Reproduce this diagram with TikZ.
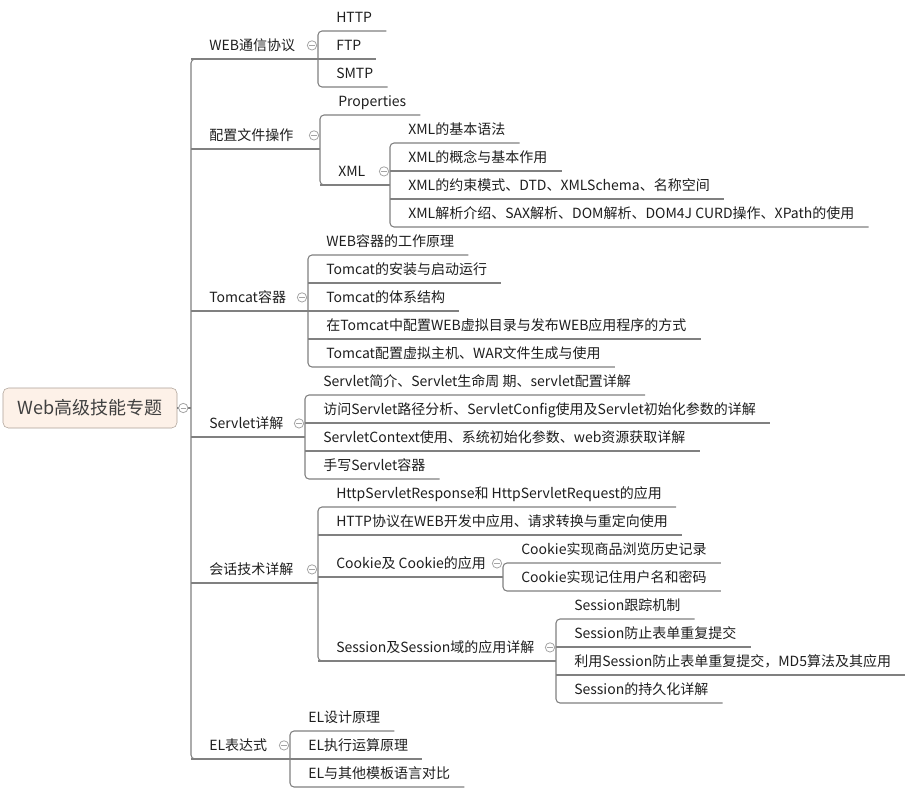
\documentclass[tikz,border=0pt]{standalone}
\usepackage{fontspec}
\setmainfont{Noto Sans CJK SC}
\usepackage{tikz}
\usetikzlibrary{calc}
\definecolor{linegray}{RGB}{128,128,128}
\definecolor{foldgray}{RGB}{165,165,165}
\definecolor{rootfill}{RGB}{253,241,232}
\definecolor{rootdraw}{RGB}{172,160,150}
\definecolor{txt}{RGB}{30,30,30}

\begin{document}
\begin{tikzpicture}[x=0.75pt, y=-0.75pt,
    topic/.style={anchor=south west, xshift=3pt, font=\fontsize{10.5}{12}\selectfont, text=txt, inner xsep=10.5pt, inner ysep=4.5pt, text height=9pt, text depth=2pt},
    rootbox/.style={draw=rootdraw, fill=rootfill, rounded corners=4pt, minimum width=130.5pt, minimum height=30pt, font=\fontsize{13.5}{16}\selectfont, text=txt!85},
    link/.style={draw=linegray, line width=0.8pt},
    trunk/.style={link, rounded corners=3pt},
    fold/.style={circle, draw=foldgray, fill=white, line width=0.6pt, minimum size=7pt, inner sep=0pt,
        path picture={\draw[foldgray, line width=0.6pt] ([xshift=-2pt]path picture bounding box.center) -- ([xshift=2pt]path picture bounding box.center);}}]
    \useasboundingbox (0,0) rectangle (912,795);

    % root and first level
    \node[rootbox] (root) at (90,408) {Web高级技能专题};
    \node[topic] (web) at (191,59) {WEB通信协议};
    \node[topic] (conf) at (191,149) {配置文件操作};
    \node[topic] (tomcat) at (191,311) {Tomcat容器};
    \node[topic] (servlet) at (191,437) {Servlet详解};
    \node[topic] (talk) at (191,583) {会话技术详解};
    \node[topic] (el) at (191,759) {EL表达式};

    % WEB通信协议
    \node[topic] (http) at (318,31) {HTTP};
    \node[topic] (ftp) at (318,59) {FTP};
    \node[topic] (smtp) at (318,87) {SMTP};

    % 配置文件操作
    \node[topic] (prop) at (320,115) {Properties};
    \node[topic] (xml) at (320,185) {XML};
    \node[topic] (xmla) at (390,143) {XML的基本语法};
    \node[topic] (xmlb) at (390,171) {XML的概念与基本作用};
    \node[topic] (xmlc) at (390,199) {XML的约束模式、DTD、XMLSchema、名称空间};
    \node[topic] (xmld) at (390,227) {XML解析介绍、SAX解析、DOM解析、DOM4J CURD操作、XPath的使用};

    % Tomcat容器
    \node[topic] (tca) at (308,255) {WEB容器的工作原理};
    \node[topic] (tcb) at (308,283) {Tomcat的安装与启动运行};
    \node[topic] (tcc) at (308,311) {Tomcat的体系结构};
    \node[topic] (tcd) at (308,339) {在Tomcat中配置WEB虚拟目录与发布WEB应用程序的方式};
    \node[topic] (tce) at (308,367) {Tomcat配置虚拟主机、WAR文件生成与使用};

    % Servlet详解
    \node[topic] (sva) at (305,395) {Servlet简介、Servlet生命周 期、servlet配置详解};
    \node[topic] (svb) at (305,423) {访问Servlet路径分析、ServletConfig使用及Servlet初始化参数的详解};
    \node[topic] (svc) at (305,451) {ServletContext使用、系统初始化参数、web资源获取详解};
    \node[topic] (svd) at (305,479) {手写Servlet容器};

    % 会话技术详解
    \node[topic] (tka) at (318,507) {HttpServletResponse和 HttpServletRequest的应用};
    \node[topic] (tkb) at (318,535) {HTTP协议在WEB开发中应用、请求转换与重定向使用};
    \node[topic] (cookie) at (318,577) {Cookie及 Cookie的应用};
    \node[topic] (sess) at (318,661) {Session及Session域的应用详解};
    \node[topic] (cka) at (503,563) {Cookie实现商品浏览历史记录};
    \node[topic] (ckb) at (503,591) {Cookie实现记住用户名和密码};
    \node[topic] (ssa) at (556,619) {Session跟踪机制};
    \node[topic] (ssb) at (556,647) {Session防止表单重复提交};
    \node[topic] (ssc) at (556,675) {利用Session防止表单重复提交，MD5算法及其应用};
    \node[topic] (ssd) at (556,703) {Session的持久化详解};

    % EL表达式
    \node[topic] (ela) at (290,731) {EL设计原理};
    \node[topic] (elb) at (290,759) {EL执行运算原理};
    \node[topic] (elc) at (290,787) {EL与其他模板语言对比};

    % connectors
    \draw[link] (root.east) -- ($(root.east -| web.south west)+(-3pt,0)$);
    \draw[trunk] (web.south east) -- ([xshift=-3pt]web.south west) -- ([xshift=-3pt]el.south west) -- (el.south east);
    \foreach \p/\c in {web/http, conf/prop, tomcat/tca, servlet/sva, talk/tka, el/ela, xml/xmla, cookie/cka, sess/ssa}
        \draw[link] ([xshift=-3pt]\p.south west) -- ($(\p.south west -| \c.south west)+(-3pt,0)$);
    \foreach \a/\b in {http/smtp, prop/xml, xmla/xmld, tca/tce, sva/svd, tka/sess, cka/ckb, ssa/ssd, ela/elc}
        \draw[trunk] (\a.south east) -- ([xshift=-3pt]\a.south west) -- ([xshift=-3pt]\b.south west) -- (\b.south east);
    \foreach \m in {conf, tomcat, servlet, talk, ftp, xmlb, xmlc, tcb, tcc, tcd, svb, svc, tkb, cookie, ssb, ssc, elb}
        \draw[link] ([xshift=-3pt]\m.south west) -- (\m.south east);

    % fold buttons
    \node[fold] (f0) at ($(root.east)+(6,0)$) {};
    \foreach \p/\c in {web/http, conf/prop, tomcat/tca, servlet/sva, talk/tka, el/ela, xml/xmla, cookie/cka, sess/ssa}
        \node[fold] (f-\p) at ($(\p.center -| \c.south west)+(-3pt,0)+(-6,0)$) {};
\end{tikzpicture}
\end{document}
